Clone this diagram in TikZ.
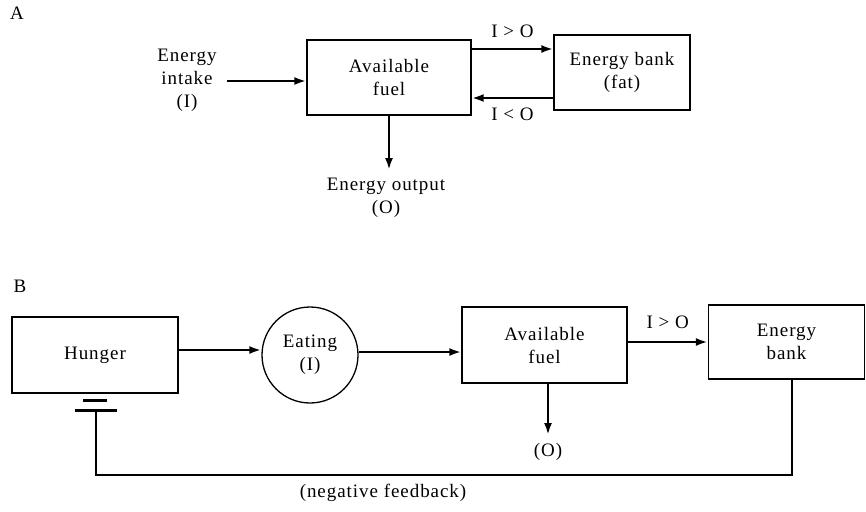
\documentclass[tikz,border=0pt]{standalone}
\usepackage{fontspec}
\setmainfont[LetterSpace=5]{Liberation Serif}
\usetikzlibrary{arrows.meta, calc}

\begin{document}
\begin{tikzpicture}[x=1pt, y=-1pt, font=\fontsize{19}{23}\selectfont,
  box/.style={draw, line width=1.3pt, align=center, inner sep=0pt},
  flow/.style={-{Latex[length=12pt,width=8pt]}, line width=2.8pt},
  txt/.style={align=center, inner sep=0pt}]
\useasboundingbox (0,0) rectangle (866,511);

% Panel A
\node[txt] (labA) at (17,13) {A};
\node[box, minimum width=164pt, minimum height=75pt] (fuelA) at (389,77.5) {Available\\fuel};
\node[box, minimum width=136pt, minimum height=75pt] (bankA) at (622,72.5) {Energy bank\\(fat)};
\node[txt] (intake) at (187,80) {Energy\\intake\\(I)};
\node[txt] (output) at (386,198) {Energy output\\(O)};
\coordinate (outA) at (389,170);

\draw[flow, shorten <=10pt] (intake.east |- 0,81) -- (fuelA.west |- 0,81);
\draw[flow] (fuelA.east |- 0,49) -- (bankA.west |- 0,49)
  node[txt, midway, above=10pt] (gtA) {I > O};
\draw[flow] (bankA.west |- 0,98) -- (fuelA.east |- 0,98)
  node[txt, midway, below=9pt] (ltA) {I < O};
\draw[flow] (fuelA.south) -- (outA);

% Panel B
\node[txt] (labB) at (20,286) {B};
\node[box, minimum width=166pt, minimum height=76pt] (hunger) at (95,355) {Hunger};
\node[box, circle, minimum size=96pt] (eating) at (310,355) {Eating\\(I)};
\node[box, minimum width=165pt, minimum height=76pt] (fuelB) at (544.5,345) {Available\\fuel};
\node[box, minimum width=156pt, minimum height=74pt] (bankB) at (786.5,342) {Energy\\bank};
\node[txt] (outB) at (548,452) {(O)};
\node[txt] (negfb) at (383,493) {(negative feedback)};
\coordinate (stopB) at (96,410);
\coordinate (outBend) at (548,435);

\draw[flow] (hunger.east |- 0,350) -- (eating.west |- 0,350);
\draw[flow] (eating.east |- 0,352) -- (fuelB.west |- 0,352);
\draw[flow] (fuelB.east |- 0,342) -- (bankB.west |- 0,342)
  node[txt, midway, above=12pt] (gtB) {I > O};
\draw[flow] (fuelB.south -| outBend) -- (outBend);

% feedback loop
\draw[line width=2.8pt] (bankB.south -| 792,0) -- (792,475) -- (96,475) -- (stopB);
\draw[line width=3pt] (75,410) -- (117,410);
\draw[line width=3pt] (83,400) -- (107,400);
\end{tikzpicture}
\end{document}
